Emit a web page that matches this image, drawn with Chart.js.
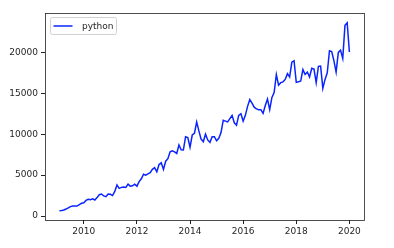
<!DOCTYPE html>
<html>
<head>
<meta charset="utf-8">
<script src="https://cdn.jsdelivr.net/npm/chart.js@4.4.1/dist/chart.umd.min.js"></script>
<style>
  html, body { margin: 0; padding: 0; background: #fff; }
  canvas { display: block; }
</style>
</head>
<body>
<canvas id="chart-python" width="394" height="248"></canvas>
<script>
// monthly counts, Feb 2009 .. Jan 2020
const startYear = 2009
const startMonth = 2
const pythonValues = [
  650, 680, 730, 850, 1000, 1150, 1220, 1230, 1220, 1400, 1550,
  1620, 1900, 2040, 2000, 2100, 1960, 2250, 2600, 2690, 2450, 2360, 2690,
  2650, 2500, 3000, 3790, 3380, 3500, 3550, 3500, 3900, 3650, 3700, 3900,
  3650, 4200, 4550, 5100, 5000, 5150, 5300, 5700, 5900, 5400, 6300, 6500,
  5700, 6700, 7000, 7850, 7980, 7850, 7650, 8680, 8100, 8070, 9690, 9600,
  8400, 9900, 10100, 11500, 10400, 9400, 9080, 10000, 9300, 9000, 9700, 9700,
  9200, 9500, 10200, 11700, 11600, 11500, 11900, 12300, 11400, 11100, 12300, 12500,
  11600, 12300, 13400, 14250, 13800, 13300, 13100, 13000, 13000, 12550, 13500, 14300,
  13000, 14500, 15100, 17300, 16000, 16300, 16400, 16700, 17400, 17000, 18800, 18980,
  16330, 16400, 16500, 17900, 17300, 17600, 17000, 18050, 17950, 16300, 18300, 18330,
  15600, 16700, 17500, 20200, 20100, 19000, 17600, 20000, 20280, 19270, 23300, 23620,
  20050
]
const xTicks = [2010, 2012, 2014, 2016, 2018, 2020]
const yTicks = [0, 5000, 10000, 15000, 20000]
const seriesName = 'python'

const points = pythonValues.map((v, i) => ({
  x: startYear + (startMonth - 1 + i) / 12,
  y: v
}))

const lineColor = '#0a24ff'
const textColor = '#262626'
const tickFont = { family: 'DejaVu Sans', size: 9 }

/* frame + legend like matplotlib */
const framePlugin = {
  id: 'frame',
  afterDraw(chart) {
    const { ctx, chartArea: a } = chart
    ctx.save()
    ctx.strokeStyle = '#222'
    ctx.lineWidth = 0.8
    ctx.strokeRect(a.left + 0.5, a.top + 0.5, a.right - a.left, a.bottom - a.top)

    // legend box
    const bx = a.left + 5.5, by = a.top + 4.5, bw = 66, bh = 17, r = 2
    ctx.beginPath()
    ctx.moveTo(bx + r, by)
    ctx.arcTo(bx + bw, by, bx + bw, by + bh, r)
    ctx.arcTo(bx + bw, by + bh, bx, by + bh, r)
    ctx.arcTo(bx, by + bh, bx, by, r)
    ctx.arcTo(bx, by, bx + bw, by, r)
    ctx.closePath()
    ctx.fillStyle = 'rgba(255,255,255,0.8)'
    ctx.fill()
    ctx.strokeStyle = '#d0d0d0'
    ctx.lineWidth = 1
    ctx.stroke()

    ctx.beginPath()
    ctx.moveTo(bx + 3, by + bh / 2)
    ctx.lineTo(bx + 22, by + bh / 2)
    ctx.strokeStyle = lineColor
    ctx.lineWidth = 1.5
    ctx.stroke()

    ctx.fillStyle = textColor
    ctx.font = '9px "DejaVu Sans"'
    ctx.textBaseline = 'middle'
    ctx.fillText(seriesName, bx + 76 - 45 + 0.5, by + bh / 2 + 0.5)
    ctx.restore()
  }
}

const chart = new Chart(document.getElementById('chart-python'), {
  type: 'line',
  data: {
    datasets: [{
      label: seriesName,
      data: points,
      borderColor: lineColor,
      borderWidth: 1.5,
      pointRadius: 0,
      fill: false,
      tension: 0
    }]
  },
  options: {
    responsive: false,
    animation: false,
    layout: { padding: { left: 0, top: 13, right: 30, bottom: 0 } },
    plugins: {
      legend: { display: false },
      tooltip: { enabled: false }
    },
    scales: {
      x: {
        type: 'linear',
        min: 2008.54,
        max: 2020.55,
        afterBuildTicks: (scale) => { scale.ticks = xTicks.map(v => ({ value: v })) },
        afterFit: (scale) => { scale.height = 28 },
        grid: { drawOnChartArea: false, drawTicks: true, tickLength: 4, tickColor: '#222' },
        border: { display: false },
        ticks: { color: textColor, font: tickFont, padding: 2, maxRotation: 0, callback: v => String(v) }
      },
      y: {
        type: 'linear',
        min: -489,
        max: 24817,
        afterBuildTicks: (scale) => { scale.ticks = yTicks.map(v => ({ value: v })) },
        afterFit: (scale) => { scale.width = 45 },
        grid: { drawOnChartArea: false, drawTicks: true, tickLength: 4, tickColor: '#222' },
        border: { display: false },
        ticks: { color: textColor, font: tickFont, padding: 3, callback: v => String(v) }
      }
    }
  },
  plugins: [framePlugin]
})
</script>
</body>
</html>
